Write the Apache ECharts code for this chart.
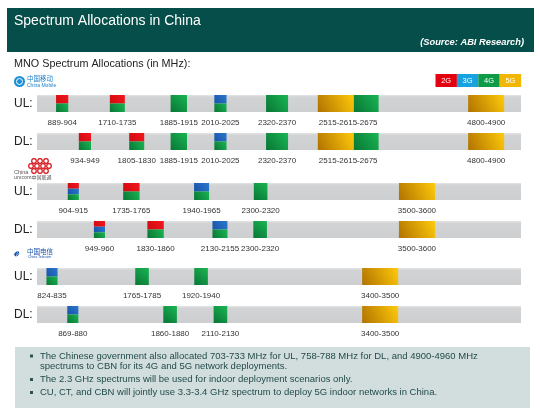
<!DOCTYPE html>
<html><head><meta charset="utf-8">
<script src="https://cdn.jsdelivr.net/npm/echarts@6/dist/echarts.min.js"></script>
<style>html,body{margin:0;padding:0;background:#fff}#c{width:540px;height:419px}</style>
</head><body><div id="c"></div>
<script>
// ---- data (band in MHz, technology mix: '+' stacked top->bottom, '|' side by side) ----
const techs = ['2G', '3G', '4G', '5G'];
const mobileUL = [['889-904','2G+4G'],['1710-1735','2G+4G'],['1885-1915','4G'],['2010-2025','3G+4G'],['2320-2370','4G'],['2515-2615-2675','5G|4G'],['4800-4900','5G']];
const mobileDL = [['934-949','2G+4G'],['1805-1830','2G+4G'],['1885-1915','4G'],['2010-2025','3G+4G'],['2320-2370','4G'],['2515-2615-2675','5G|4G'],['4800-4900','5G']];
const unicomUL = [['904-915','2G+3G+4G'],['1735-1765','2G+4G'],['1940-1965','3G+4G'],['2300-2320','4G'],['3500-3600','5G']];
const unicomDL = [['949-960','2G+3G+4G'],['1830-1860','2G+4G'],['2130-2155','3G+4G'],['2300-2320','4G'],['3500-3600','5G']];
const telecomUL = [['824-835','3G+4G'],['1765-1785','4G'],['1920-1940','4G'],['3400-3500','5G']];
const telecomDL = [['869-880','3G+4G'],['1860-1880','4G'],['2110-2130','4G'],['3400-3500','5G']];
// schematic slot of each allocation along its row (centre, % of track), as drawn in the source
const mobileULSlot = [5.2, 16.6, 29.3, 37.9, 49.6, 64.3, 92.8];
const mobileDLSlot = [9.9, 20.6, 29.3, 37.9, 49.6, 64.3, 92.8];
const unicomULSlot = [7.5, 19.5, 34.0, 46.2, 78.5];
const unicomDLSlot = [12.9, 24.5, 37.8, 46.1, 78.5];
const telecomULSlot = [3.1, 21.7, 33.9, 70.9];
const telecomDLSlot = [7.4, 27.5, 37.9, 70.9];
const notes = [
  ['The Chinese government also allocated 703-733 MHz for UL, 758-788 MHz for DL, and 4900-4960 MHz', 'spectrums to CBN for its 4G and 5G network deployments.'],
  ['The 2.3 GHz spectrums will be used for indoor deployment scenarios only.'],
  ['CU, CT, and CBN will jointly use 3.3-3.4 GHz spectrum to deploy 5G indoor networks in China.']
];

// ---- layout / style ----
const FONT = 'Arial, "Liberation Sans", sans-serif';
const CJK = '"Noto Sans CJK SC", sans-serif';
const rows = [
  {name: 'UL:', data: mobileUL, slot: mobileULSlot, top: 95},
  {name: 'DL:', data: mobileDL, slot: mobileDLSlot, top: 133},
  {name: 'UL:', data: unicomUL, slot: unicomULSlot, top: 183},
  {name: 'DL:', data: unicomDL, slot: unicomDLSlot, top: 221},
  {name: 'UL:', data: telecomUL, slot: telecomULSlot, top: 268},
  {name: 'DL:', data: telecomDL, slot: telecomDLSlot, top: 306}
];
const ROW_H = 17, LEFT = 37, TRACK_W = 484;
const G = echarts.graphic;
function grad(t) {
  const c = {
    '2G': ['#cf0a10', '#f2171d'],
    '3G': ['#1853a8', '#2a78cc'],
    '4G': ['#097636', '#19b552'],
    '5G': ['#b07200', '#ffca0a']
  }[t];
  return new G.LinearGradient(0, 1, 1, 0, [{offset: 0, color: c[0]}, {offset: 1, color: c[1]}]);
}
const legendCol = {'2G': '#e3000f', '3G': '#19a2e0', '4G': '#0d9b47', '5G': '#f2b705'};

function makeRender(row) {
  return function (params, api) {
    const i = api.value(1);
    const label = row.data[i][0], tech = row.data[i][1];
    const cs = params.coordSys;
    const cx = api.coord([api.value(0), 0])[0];
    const nums = label.split('-').map(Number);
    const widths = [];
    for (let k = 0; k < nums.length - 1; k++) widths.push(8 + 0.28 * (nums[k + 1] - nums[k]));
    const total = widths.reduce((a, b) => a + b, 0);
    let x = cx - total / 2;
    const children = [];
    tech.split('|').forEach((part, k) => {
      const gens = part.split('+');
      const h = cs.height / gens.length;
      gens.forEach((g, j) => {
        children.push({type: 'rect', shape: {x: x, y: cs.y + j * h, width: widths[k], height: h},
          style: {fill: grad(g)}});
      });
      x += widths[k];
    });
    children.push({type: 'text', style: {text: label, x: cx, y: cs.y + cs.height + 11,
      align: 'center', verticalAlign: 'middle', font: '8px ' + FONT, fill: '#333'}});
    return {type: 'group', children: children};
  };
}

const grid = [], xAxis = [], yAxis = [], series = [];
rows.forEach((r, i) => {
  grid.push({left: LEFT, width: TRACK_W, top: r.top, height: ROW_H, show: true,
    backgroundColor: new G.LinearGradient(0, 0, 0, 1, [{offset: 0, color: '#e4e5e6'}, {offset: 0.12, color: '#d2d3d5'}, {offset: 1, color: '#cdced0'}]),
    borderWidth: 0});
  xAxis.push({type: 'value', gridIndex: i, min: 0, max: 100, show: false});
  yAxis.push({type: 'category', gridIndex: i, data: [r.name], show: false});
  series.push({type: 'custom', xAxisIndex: i, yAxisIndex: i, clip: false, silent: true,
    renderItem: makeRender(r), data: r.slot.map((s, k) => [s, k])});
});

const graphic = [
  {type: 'rect', shape: {x: 7, y: 8, width: 527, height: 44}, style: {fill: '#054e49'}},
  {type: 'text', style: {text: 'Spectrum Allocations in China', x: 14, y: 21.5, verticalAlign: 'middle',
    font: '14px ' + FONT, fill: '#fff'}},
  {type: 'text', style: {text: '(Source: ABI Research)', x: 524, y: 42, align: 'right', verticalAlign: 'middle',
    font: 'italic bold 9.3px ' + FONT, fill: '#fff'}},
  {type: 'text', style: {text: 'MNO Spectrum Allocations (in MHz):', x: 14, y: 64, verticalAlign: 'middle',
    font: '10.8px ' + FONT, fill: '#222'}},
  // China Mobile logo
  {type: 'circle', shape: {cx: 19.5, cy: 81.5, r: 5.5}, style: {fill: '#1a8fd8'}},
  {type: 'circle', shape: {cx: 19.5, cy: 81.5, r: 3}, style: {fill: 'none', stroke: '#fff', lineWidth: 1}},
  {type: 'text', style: {text: '中国移动', x: 27, y: 78.5, verticalAlign: 'middle', font: '6.5px ' + CJK, fill: '#1a7fc8'}},
  {type: 'text', style: {text: 'China Mobile', x: 27, y: 85.5, verticalAlign: 'middle', font: '5px ' + FONT, fill: '#1a7fc8'}},
  // China Unicom logo
  {type: 'text', style: {text: 'China', x: 14, y: 172, verticalAlign: 'middle', font: '5.5px ' + FONT, fill: '#555'}},
  {type: 'text', style: {text: 'unicom中国联通', x: 14, y: 177.5, verticalAlign: 'middle', font: '5px ' + CJK, fill: '#555'}},
  // China Telecom logo
  {type: 'text', style: {text: 'ℯ', x: 14, y: 253, verticalAlign: 'middle', font: 'bold 11px ' + FONT, fill: '#1550a8'}},
  {type: 'text', style: {text: '中国电信', x: 27, y: 251.5, verticalAlign: 'middle', font: '6.5px ' + CJK, fill: '#1550a8'}},
  {type: 'text', style: {text: 'China Telecom', x: 28, y: 257.5, verticalAlign: 'middle', font: '3.5px ' + FONT, fill: '#1550a8'}},
  // notes box
  {type: 'rect', shape: {x: 15, y: 347, width: 515, height: 61}, style: {fill: '#d2dede'}}
];
// unicom knot: ring cluster
[[34,161],[40,161],[46,161],[31,166],[37,166],[43,166],[49,166],[34,171],[40,171],[46,171]].forEach(p => {
  graphic.push({type: 'circle', shape: {cx: p[0], cy: p[1], r: 2.3}, style: {fill: 'none', stroke: '#d7141a', lineWidth: 1.2}});
});
rows.forEach(r => {
  graphic.push({type: 'text', style: {text: r.name, x: 14, y: r.top + ROW_H / 2 + 0.5, verticalAlign: 'middle',
    font: '12px ' + FONT, fill: '#222'}});
});
techs.forEach((t, i) => {
  graphic.push({type: 'rect', shape: {x: 435.5 + i * 21.4, y: 74, width: 21.4, height: 13}, style: {fill: legendCol[t]}});
  graphic.push({type: 'text', style: {text: t, x: 435.5 + i * 21.4 + 10.7, y: 80.5, align: 'center', verticalAlign: 'middle',
    font: '7.5px ' + FONT, fill: '#fff'}});
});
let ny = 356;
notes.forEach(n => {
  graphic.push({type: 'rect', shape: {x: 30, y: ny - 1.5, width: 3, height: 3}, style: {fill: '#2c5252'}});
  n.forEach(line => {
    graphic.push({type: 'text', style: {text: line, x: 40, y: ny, verticalAlign: 'middle', font: '9.5px ' + FONT, fill: '#234b4b'}});
    ny += 10.5;
  });
  ny += 2.5;
});

const chart = echarts.init(document.getElementById('c'), null, {renderer: 'canvas'});
chart.setOption({animation: false, grid, xAxis, yAxis, series, graphic});
</script></body></html>
